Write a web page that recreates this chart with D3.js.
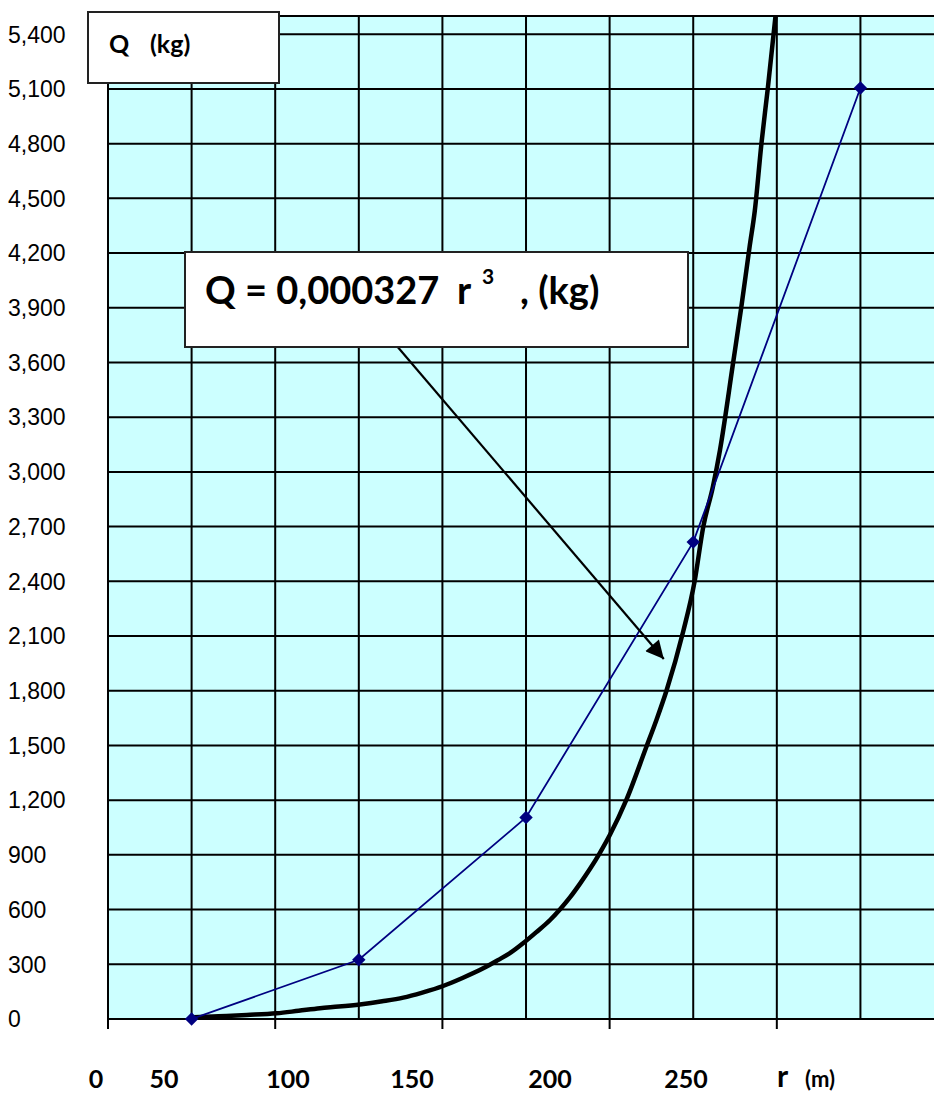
<!DOCTYPE html>
<html>
<head>
<meta charset="utf-8">
<script src="https://cdn.jsdelivr.net/npm/d3@7.9.0/dist/d3.min.js"></script>
<style>
  body { margin: 0; background: #fff; }
  svg { display: block; }
</style>
</head>
<body>
<div id="chart"></div>
<script>
// blue series: points every 50 m
const blueR = [50, 100, 150, 200, 250];
const blueQ = [0, 325, 1105, 2615, 5105];

// black curve
const blackR = [50.5, 58, 66.5, 75.4, 82, 88.4, 94, 100.3, 107, 113.3, 119, 125.2, 131, 137.2, 141.6,
  145.5, 149.1, 153, 157.2, 160.2, 163.2, 166.1, 169.1, 172.1, 175.1, 180, 186, 189, 192, 197, 200.4,
  203, 205.9, 208, 211.9, 214.4, 216.9, 218.4, 220.4, 222.3, 224.6];
const blackQ = [9, 15, 22, 31, 45, 59, 68, 80, 97, 117, 145, 181, 225, 278, 323,
  365, 415, 475, 543, 602, 668, 741, 822, 911, 1010, 1201, 1493, 1640, 1800, 2125, 2398,
  2699, 2920, 3120, 3595, 3906, 4240, 4430, 4801, 5103, 5499];

const yTicks = d3.range(0, 5401, 300);
const xGrid = d3.range(50, 251, 25);
const xTicks = [25, 75, 125, 175, 225];
const bottomLabels = ['0', '50', '100', '150', '200', '250'];

const width = 934;
const height = 1095;
const plot = { left: 108, top: 16, right: 934, bottom: 1019 };

const svg = d3.select('#chart').append('svg')
  .attr('width', width)
  .attr('height', height);

const x = d3.scaleLinear().domain([25, 272]).range([plot.left, plot.right]);
const y = d3.scaleLinear().domain([0, 5500]).range([plot.bottom, plot.top]);

// plot background
svg.append('rect')
  .attr('x', plot.left).attr('y', plot.top)
  .attr('width', plot.right - plot.left)
  .attr('height', plot.bottom - plot.top)
  .attr('fill', '#ccffff');

// gridlines
const grid = svg.append('g').attr('stroke', '#000').attr('stroke-width', 2);
grid.selectAll('line.h')
  .data(yTicks.slice(1).concat([5500]))
  .join('line')
  .attr('class', 'h')
  .attr('x1', plot.left).attr('x2', plot.right)
  .attr('y1', d => y(d)).attr('y2', d => y(d));
grid.selectAll('line.v')
  .data(xGrid)
  .join('line')
  .attr('class', 'v')
  .attr('y1', plot.top).attr('y2', plot.bottom)
  .attr('x1', d => x(d)).attr('x2', d => x(d));

// axes
svg.append('line')
  .attr('x1', plot.left).attr('x2', plot.left)
  .attr('y1', plot.top).attr('y2', plot.bottom)
  .attr('stroke', '#000').attr('stroke-width', 2);
svg.append('line')
  .attr('x1', plot.left).attr('x2', plot.right)
  .attr('y1', plot.bottom).attr('y2', plot.bottom)
  .attr('stroke', '#000').attr('stroke-width', 2);
svg.append('g')
  .selectAll('line')
  .data(xTicks)
  .join('line')
  .attr('x1', d => x(d)).attr('x2', d => x(d))
  .attr('y1', plot.bottom).attr('y2', plot.bottom + 10)
  .attr('stroke', '#000').attr('stroke-width', 2);

// y labels (left aligned)
svg.append('g')
  .selectAll('text')
  .data(yTicks)
  .join('text')
  .attr('x', 8)
  .attr('y', d => y(d))
  .attr('dy', '0.36em')
  .attr('font-family', 'Liberation Sans, Arial, sans-serif')
  .attr('font-size', 23)
  .attr('fill', '#000')
  .text(d => d3.format(',')(d));

// black curve
const line = d3.line().x(d => x(d[0])).y(d => y(d[1]));
svg.append('path')
  .datum(d3.zip(blackR, blackQ))
  .attr('d', line.curve(d3.curveMonotoneX))
  .attr('fill', 'none')
  .attr('stroke', '#000')
  .attr('stroke-width', 4.5)
  .attr('stroke-linejoin', 'round');

// blue series
line.curve(d3.curveLinear);
svg.append('path')
  .datum(d3.zip(blueR, blueQ))
  .attr('d', line)
  .attr('fill', 'none')
  .attr('stroke', '#000080')
  .attr('stroke-width', 1.8);
svg.append('g')
  .selectAll('path')
  .data(d3.zip(blueR, blueQ))
  .join('path')
  .attr('d', d3.symbol(d3.symbolSquare, 90))
  .attr('transform', d => `translate(${x(d[0])},${y(d[1])}) rotate(45)`)
  .attr('fill', '#000080');

// arrow from formula box to curve
svg.append('defs').append('marker')
  .attr('id', 'head')
  .attr('viewBox', '0 0 10 10')
  .attr('refX', 10).attr('refY', 5)
  .attr('markerWidth', 24).attr('markerHeight', 18)
  .attr('markerUnits', 'userSpaceOnUse')
  .attr('orient', 'auto')
  .append('path').attr('d', 'M0,0L10,5L0,10Z').attr('fill', '#000');
svg.append('line')
  .attr('x1', x(111.7)).attr('y1', y(3684))
  .attr('x2', x(191.2)).attr('y2', y(1974))
  .attr('stroke', '#000').attr('stroke-width', 2.2)
  .attr('marker-end', 'url(#head)');

// formula box
const bold = 'Lato, Carlito, sans-serif';
svg.append('rect')
  .attr('x', 185).attr('y', 252).attr('width', 503).attr('height', 95)
  .attr('fill', '#fff').attr('stroke', '#222').attr('stroke-width', 2);
const f = svg.append('g').attr('font-family', bold).attr('font-weight', 700).attr('fill', '#000');
f.append('text').attr('x', 205).attr('y', 304).attr('font-size', 38).text('Q = 0,000327');
f.append('text').attr('x', 457).attr('y', 304).attr('font-size', 38).text('r');
f.append('text').attr('x', 482).attr('y', 284).attr('font-size', 21).text('3');
f.append('text').attr('x', 520).attr('y', 304).attr('font-size', 38).text(', (kg)');

// axis title box
svg.append('rect')
  .attr('x', 88).attr('y', 12).attr('width', 191).attr('height', 71)
  .attr('fill', '#fff').attr('stroke', '#222').attr('stroke-width', 2);
const t = svg.append('g').attr('font-family', bold).attr('font-weight', 700).attr('fill', '#000');
t.append('text').attr('x', 109).attr('y', 53).attr('font-size', 25).text('Q');
t.append('text').attr('x', 150).attr('y', 53).attr('font-size', 25).text('(kg)');

// bottom labels
const labelX = [96, 164, 288, 412, 550, 686];
svg.append('g')
  .selectAll('text')
  .data(bottomLabels)
  .join('text')
  .attr('x', (d, i) => labelX[i])
  .attr('y', 1088)
  .attr('text-anchor', 'middle')
  .attr('font-family', bold).attr('font-weight', 700)
  .attr('font-size', 25)
  .text(d => d);
svg.append('text').attr('x', 777).attr('y', 1087)
  .attr('font-family', bold).attr('font-weight', 700).attr('font-size', 30).text('r');
svg.append('text').attr('x', 805).attr('y', 1087)
  .attr('font-family', bold).attr('font-weight', 700).attr('font-size', 22).text('(m)');
</script>
</body>
</html>
